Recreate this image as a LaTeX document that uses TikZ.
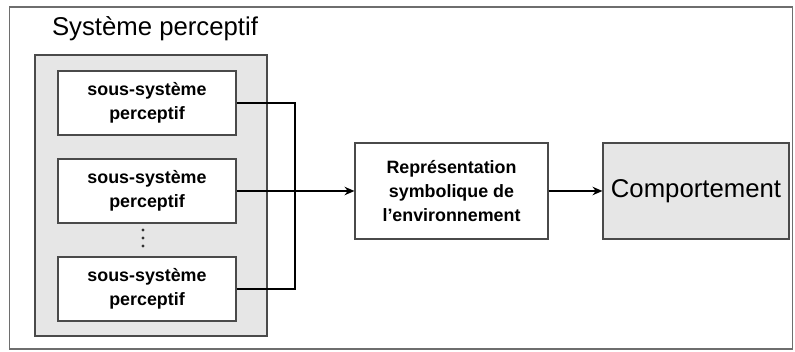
\documentclass[tikz,border=0pt]{standalone}
\usepackage{fontspec}
\setmainfont{Liberation Sans}
\usetikzlibrary{arrows.meta}
\definecolor{boxline}{HTML}{4A4A4A}
\definecolor{boxgray}{HTML}{E6E6E6}

\begin{document}
\begin{tikzpicture}[x=0.025cm, y=-0.025cm, ->, >={Stealth[length=7pt, width=6pt]},
	box/.style={draw=boxline, line width=0.8pt, align=center, font=\fontsize{12.7}{17}\selectfont\bfseries},
	subbox/.style={box, fill=white, minimum width=4.45cm, minimum height=1.6cm},
	dot/.style={circle, fill=black!80, inner sep=0pt, minimum size=2.2pt},
	link/.style={line width=1.8pt}]
	\useasboundingbox (0,0) rectangle (795,352);

	\node[draw=boxline!80, line width=0.8pt, minimum width=19.55cm, minimum height=8.55cm] (outer) at (401,178) {};
	\node[draw=boxline, line width=0.8pt, fill=boxgray, minimum width=5.8cm, minimum height=7.025cm] (group) at (151,195.5) {};
	\node[font=\fontsize{18.3}{22}\selectfont] (title) at (155,29) {Système perceptif};

	\node[subbox] (S1) at (147,103) {sous-système\\perceptif};
	\node[subbox] (S2) at (147,191) {sous-système\\perceptif};
	\node[dot] (D1) at (143,230) {};
	\node[dot] (D2) at (143,238) {};
	\node[dot] (D3) at (143,246) {};
	\node[subbox] (S3) at (147,289) {sous-système\\perceptif};
	\node[box, fill=white, minimum width=4.825cm, minimum height=2.4cm] (R) at (451.5,191) {Représentation\\symbolique de\\l’environnement};
	\node[box, fill=boxgray, font=\fontsize{18.3}{22}\selectfont, minimum width=4.65cm, minimum height=2.4cm] (C) at (696,191) {Comportement};

	\coordinate (bus) at (295,191);
	\draw[link, -] (S1.east) -| (bus);
	\draw[link, -] (S3.east) -| (bus);
	\draw[link] (S2.east) -- (R.west);
	\draw[link] (R) -- (C);
\end{tikzpicture}
\end{document}
